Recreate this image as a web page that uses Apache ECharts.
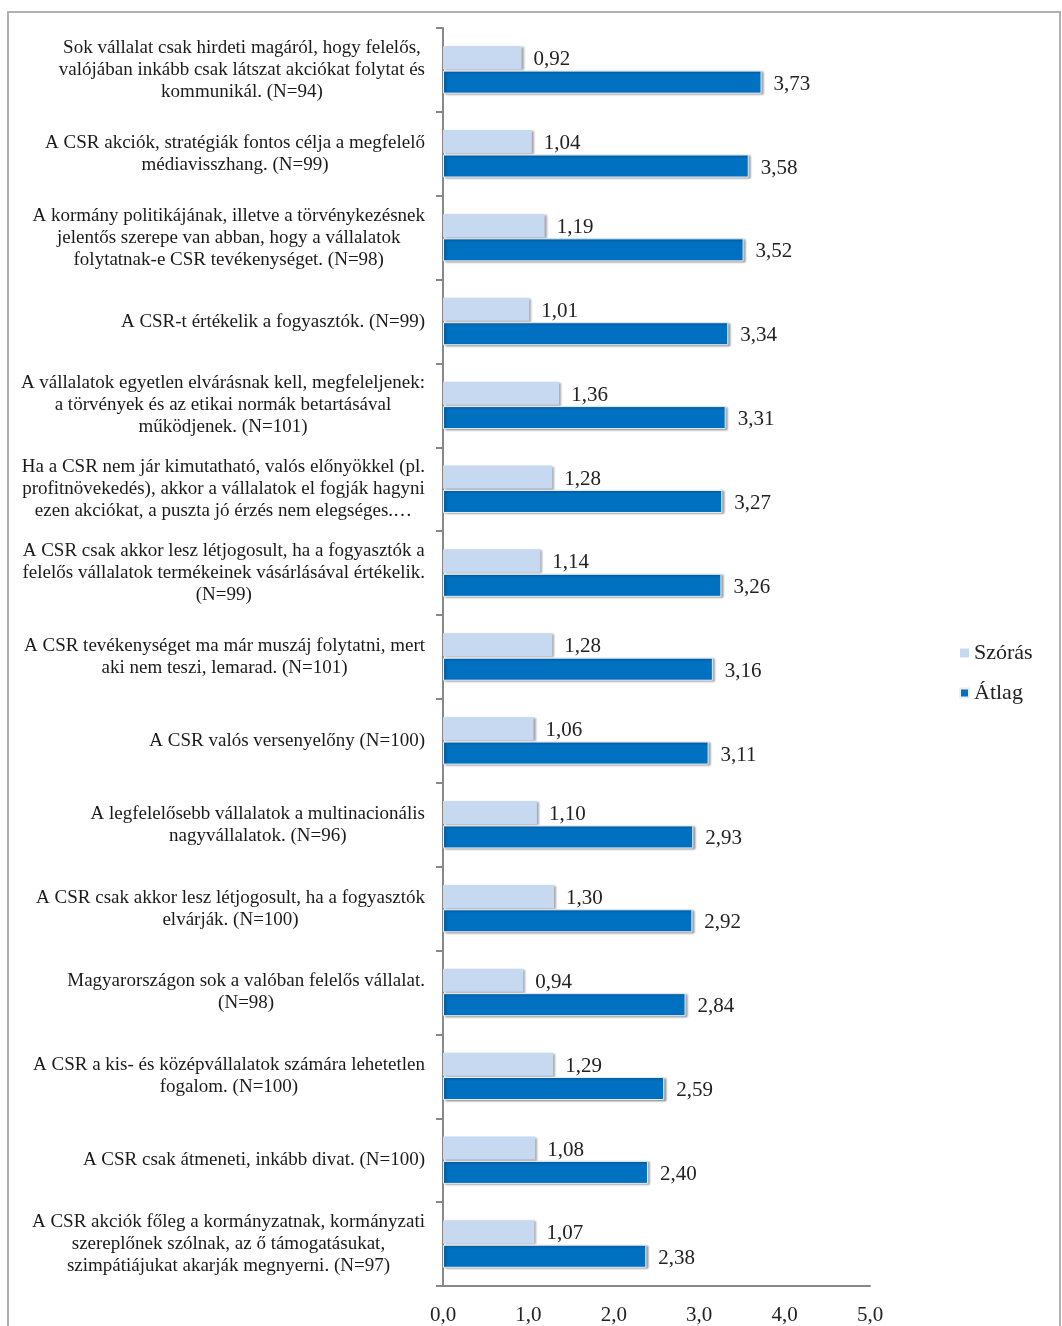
<!DOCTYPE html>
<html>
<head>
<meta charset="utf-8">
<script src="https://cdn.jsdelivr.net/npm/echarts@6/dist/echarts.min.js"></script>
<style>html,body{margin:0;padding:0;background:#fff}#c{width:1062px;height:1326px}</style>
</head>
<body>
<div id="c"></div>
<script>
const categories = [
  "Sok vállalat csak hirdeti magáról, hogy felelős,\nvalójában inkább csak látszat akciókat folytat és\nkommunikál. (N=94)",
  "A CSR akciók, stratégiák fontos célja a megfelelő\nmédiavisszhang. (N=99)",
  "A kormány politikájának, illetve a törvénykezésnek\njelentős szerepe van abban, hogy a vállalatok\nfolytatnak-e CSR tevékenységet. (N=98)",
  "A CSR-t értékelik a fogyasztók. (N=99)",
  "A vállalatok egyetlen elvárásnak kell, megfeleljenek:\na törvények és az etikai normák betartásával\nműködjenek. (N=101)",
  "Ha a CSR nem jár kimutatható, valós előnyökkel (pl.\nprofitnövekedés), akkor a vállalatok el fogják hagyni\nezen akciókat, a puszta jó érzés nem elegséges.…",
  "A CSR csak akkor lesz létjogosult, ha a fogyasztók a\nfelelős vállalatok termékeinek vásárlásával értékelik.\n(N=99)",
  "A CSR tevékenységet ma már muszáj folytatni, mert\naki nem teszi, lemarad. (N=101)",
  "A CSR valós versenyelőny (N=100)",
  "A legfelelősebb vállalatok a multinacionális\nnagyvállalatok. (N=96)",
  "A CSR csak akkor lesz létjogosult, ha a fogyasztók\nelvárják. (N=100)",
  "Magyarországon sok a valóban felelős vállalat.\n(N=98)",
  "A CSR a kis- és középvállalatok számára lehetetlen\nfogalom. (N=100)",
  "A CSR csak átmeneti, inkább divat. (N=100)",
  "A CSR akciók főleg a kormányzatnak, kormányzati\nszereplőnek szólnak, az ő támogatásukat,\nszimpátiájukat akarják megnyerni. (N=97)"
];
const szoras = [0.92, 1.04, 1.19, 1.01, 1.36, 1.28, 1.14, 1.28, 1.06, 1.10, 1.30, 0.94, 1.29, 1.08, 1.07];
const atlag  = [3.73, 3.58, 3.52, 3.34, 3.31, 3.27, 3.26, 3.16, 3.11, 2.93, 2.92, 2.84, 2.59, 2.40, 2.38];
const seriesNames = ["Szórás", "Átlag"];
const xTicks = ["0,0", "1,0", "2,0", "3,0", "4,0", "5,0"];

const serif = "'Liberation Serif', 'DejaVu Serif', serif";
const fmt = v => v.toFixed(2).replace('.', ',');

const chart = echarts.init(document.getElementById('c'));
chart.setOption({
  animation: false,
  backgroundColor: '#fff',
  graphic: [{
    type: 'rect', shape: { x: 8, y: 12, width: 1052, height: 1400 },
    style: { fill: 'none', stroke: '#b0b0b0', lineWidth: 2 }, silent: true
  }],
  legend: {
    orient: 'vertical', left: 954, top: 637, itemWidth: 9, itemHeight: 9, itemGap: 18,
    icon: 'rect',
    textStyle: { fontFamily: serif, fontSize: 22, color: '#222' },
    data: seriesNames
  },
  grid: { left: 443, right: 192, top: 28, bottom: 39, containLabel: false },
  xAxis: {
    type: 'value', min: 0, max: 5, interval: 1,
    axisLine: { show: true, lineStyle: { color: '#888', width: 2 } },
    axisTick: { show: false },
    splitLine: { show: false },
    axisLabel: {
      fontFamily: serif, fontSize: 21, color: '#222', margin: 19,
      formatter: (v) => xTicks[Math.round(v)]
    }
  },
  yAxis: {
    type: 'category', data: categories, inverse: true,
    axisLine: { show: true, lineStyle: { color: '#888', width: 2 } },
    axisTick: { show: true, length: 7, lineStyle: { color: '#888', width: 2 } },
    axisLabel: {
      margin: 18,
      fontFamily: serif, fontSize: 19, color: '#1a1a1a', lineHeight: 22,
      formatter: (v) => v.split('\n').map(l => '{c|' + l + '}').join('\n'),
      rich: { c: { align: 'center', fontFamily: serif, fontSize: 19, color: '#1a1a1a', lineHeight: 22 } }
    }
  },
  series: [
    {
      name: seriesNames[0], type: 'bar', data: szoras, barWidth: 23, barGap: '6%',
      itemStyle: { color: '#C6D9F1', shadowColor: 'rgba(0,0,0,0.35)', shadowBlur: 2, shadowOffsetX: 2, shadowOffsetY: 1 },
      label: { show: true, position: 'right', distance: 12, offset: [0, 2], fontFamily: serif, fontSize: 21, color: '#222',
        formatter: p => fmt(p.value) }
    },
    {
      name: seriesNames[1], type: 'bar', data: atlag, barWidth: 23, barGap: '6%',
      itemStyle: { color: '#0070C0', borderColor: '#e8eef6', borderWidth: 1, shadowColor: 'rgba(0,0,0,0.35)', shadowBlur: 2, shadowOffsetX: 2, shadowOffsetY: 1 },
      label: { show: true, position: 'right', distance: 12, offset: [0, 2], fontFamily: serif, fontSize: 21, color: '#222',
        formatter: p => fmt(p.value) }
    }
  ]
});
</script>
</body>
</html>
